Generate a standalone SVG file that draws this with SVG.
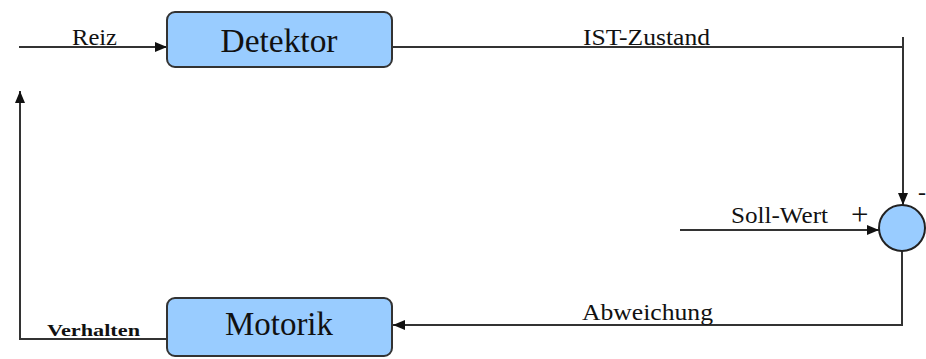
<svg xmlns="http://www.w3.org/2000/svg" width="926" height="359" viewBox="0 0 926 359">
<defs>
<style>
.box{fill:#99ccff;stroke:#333;stroke-width:2}
.ln{fill:none;stroke:#333;stroke-width:2}
text{font-family:"Liberation Serif","DejaVu Serif",serif;fill:#111}
.big{font-size:33px;text-anchor:middle}
.lbl{font-size:24px}
</style>
<marker id="ah" viewBox="0 0 12 10" refX="12" refY="5" markerWidth="12" markerHeight="10" markerUnits="userSpaceOnUse" orient="auto">
<path d="M0,0 L12,5 L0,10 Z" fill="#111"/>
</marker>
</defs>
<rect width="926" height="359" fill="#fff"/>
<g id="connectors">
<line class="ln" x1="19" y1="47" x2="167" y2="47" stroke="#666" marker-end="url(#ah)"/>
<polyline class="ln" points="392,47 903,47"/>
<line class="ln" x1="903" y1="37" x2="903" y2="205" stroke="#555" marker-end="url(#ah)"/>
<line class="ln" x1="680" y1="230" x2="879" y2="230" marker-end="url(#ah)"/>
<polyline class="ln" points="902,251 902,325 393,325" marker-end="url(#ah)"/>
<polyline class="ln" points="167,339 20,339 20,91" marker-end="url(#ah)"/>
</g>
<g id="detektor">
<rect class="box" x="167" y="12" width="225" height="55" rx="8"/>
<text class="big" x="279" y="52" textLength="117" lengthAdjust="spacingAndGlyphs">Detektor</text>
</g>
<g id="motorik">
<rect class="box" x="167" y="298" width="225" height="58" rx="8"/>
<text class="big" x="279" y="335" textLength="108" lengthAdjust="spacingAndGlyphs">Motorik</text>
</g>
<g id="summe">
<circle cx="902" cy="228" r="23" fill="#99ccff" stroke="#222" stroke-width="2"/>
</g>
<g id="labels">
<text class="lbl" x="72" y="45" textLength="45" lengthAdjust="spacingAndGlyphs">Reiz</text>
<text class="lbl" x="583" y="45" textLength="127" lengthAdjust="spacingAndGlyphs">IST-Zustand</text>
<text class="lbl" x="731" y="223" textLength="97" lengthAdjust="spacingAndGlyphs">Soll-Wert</text>
<text x="851" y="225" font-size="31">+</text>
<text class="lbl" x="918" y="200">-</text>
<text class="lbl" x="582" y="320" textLength="131" lengthAdjust="spacingAndGlyphs">Abweichung</text>
<text x="47" y="336" font-size="16" font-weight="bold" textLength="93" lengthAdjust="spacingAndGlyphs">Verhalten</text>
</g>
</svg>
